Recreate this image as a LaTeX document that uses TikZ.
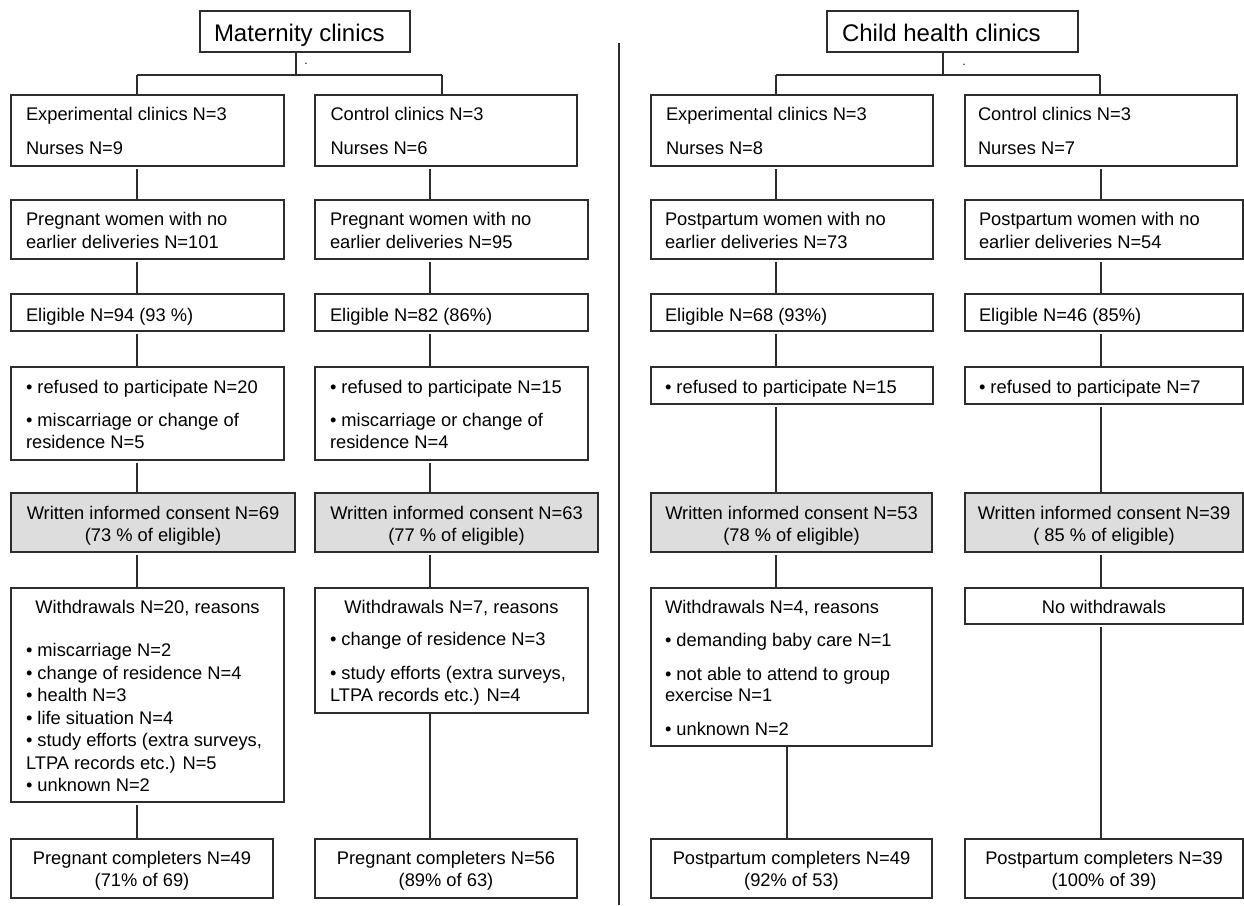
\documentclass[tikz,border=0pt]{standalone}
\usepackage{fontspec}
\setmainfont{Liberation Sans}
\definecolor{consentgray}{RGB}{221,221,221}
\definecolor{edge}{RGB}{45,45,45}
\newcommand\mybox[6]{\node[#6, minimum width={#4-#2}, minimum height={#5-#3}, anchor=north west] (#1) at (#2,#3) {};}
\tikzset{
  boxstyle/.style={draw=edge, line width=1.3pt, inner sep=0pt, outer sep=0pt},
  graybox/.style={boxstyle, fill=consentgray},
  txt/.style={inner sep=0pt, outer sep=0pt, font=\fontsize{18.3}{22}\selectfont},
  titletxt/.style={inner sep=0pt, outer sep=0pt, font=\fontsize{24}{28}\selectfont},
  dottxt/.style={inner sep=0pt, outer sep=0pt, font=\fontsize{12}{14}\selectfont},
  conn/.style={draw=edge, line width=1.1pt},
  gapconn/.style={conn, shorten <=3pt}
}
\begin{document}
\begin{tikzpicture}[x=1pt,y=-1pt]
\useasboundingbox (0,0) rectangle (1244,905);
\clip (0,0) rectangle (1244,905);
\fill[white] (0,0) rectangle (1244,905);

% ---------------- left half: Maternity clinics ----------------
\mybox{T1}{200}{11}{410}{52}{boxstyle}
\mybox{A1}{11}{95}{284}{166}{boxstyle}
\mybox{B1}{315}{95}{577}{166}{boxstyle}
\mybox{A2}{11}{200}{284}{259}{boxstyle}
\mybox{B2}{315}{200}{588}{259}{boxstyle}
\mybox{A3}{11}{294}{284}{331}{boxstyle}
\mybox{B3}{315}{294}{588}{331}{boxstyle}
\mybox{A4}{11}{367}{284}{460}{boxstyle}
\mybox{B4}{315}{367}{588}{460}{boxstyle}
\mybox{A5}{11}{493}{295}{552}{graybox}
\mybox{B5}{315}{493}{598}{552}{graybox}
\mybox{A6}{11}{588}{284}{802}{boxstyle}
\mybox{B6}{315}{588}{588}{713}{boxstyle}
\mybox{A7}{11}{839}{273}{898}{boxstyle}
\mybox{B7}{315}{839}{577}{898}{boxstyle}

% ---------------- right half: Child health clinics ----------------
\mybox{T2}{827}{11}{1078}{52}{boxstyle}
\mybox{C1}{651}{95}{933}{166}{boxstyle}
\mybox{D1}{965}{95}{1237}{166}{boxstyle}
\mybox{C2}{651}{200}{933}{259}{boxstyle}
\mybox{D2}{965}{200}{1243}{259}{boxstyle}
\mybox{C3}{651}{294}{933}{331}{boxstyle}
\mybox{D3}{965}{294}{1243}{331}{boxstyle}
\mybox{C4}{651}{367}{933}{404}{boxstyle}
\mybox{D4}{965}{367}{1243}{404}{boxstyle}
\mybox{C5}{651}{493}{932}{552}{graybox}
\mybox{D5}{965}{493}{1243}{552}{graybox}
\mybox{C6}{651}{588}{932}{746}{boxstyle}
\mybox{D6}{965}{588}{1243}{624}{boxstyle}
\mybox{C7}{651}{839}{932}{898}{boxstyle}
\mybox{D7}{965}{839}{1243}{898}{boxstyle}

% ---------------- column coordinates ----------------
\coordinate (xa) at (137,0);
\coordinate (xb) at (430,0);
\coordinate (xc) at (776,0);
\coordinate (xcc) at (787,0);
\coordinate (xd) at (1101,0);
\coordinate (barLm) at (296,75);
\coordinate (barLa) at (137,75);
\coordinate (barLb) at (442,75);
\coordinate (barRm) at (943,75);
\coordinate (barRc) at (776,75);
\coordinate (barRd) at (1100,75);
\coordinate (divtop) at (619,43);
\coordinate (divbot) at (619,905);

% divider
\draw[conn] (divtop) -- (divbot);

% title tree, left
\draw[conn] (T1.south -| barLm) -- (barLm);
\draw[conn] (barLa) -- (barLb);
\draw[conn] (barLa) -- (barLa |- A1.north);
\draw[conn] (barLb) -- (barLb |- B1.north);
% title tree, right
\draw[conn] (T2.south -| barRm) -- (barRm);
\draw[conn] (barRc) -- (barRd);
\draw[conn] (barRc) -- (barRc |- C1.north);
\draw[conn] (barRd) -- (barRd |- D1.north);

% column A
\draw[gapconn] (xa |- A1.south) -- (xa |- A2.north);
\draw[gapconn] (xa |- A2.south) -- (xa |- A3.north);
\draw[gapconn] (xa |- A3.south) -- (xa |- A4.north);
\draw[gapconn] (xa |- A4.south) -- (xa |- A5.north);
\draw[gapconn] (xa |- A5.south) -- (xa |- A6.north);
\draw[gapconn] (xa |- A6.south) -- (xa |- A7.north);
% column B
\draw[gapconn] (xb |- B1.south) -- (xb |- B2.north);
\draw[gapconn] (xb |- B2.south) -- (xb |- B3.north);
\draw[gapconn] (xb |- B3.south) -- (xb |- B4.north);
\draw[gapconn] (xb |- B4.south) -- (xb |- B5.north);
\draw[gapconn] (xb |- B5.south) -- (xb |- B6.north);
\draw[conn] (xb |- B6.south) -- (xb |- B7.north);
% column C
\draw[gapconn] (xc |- C1.south) -- (xc |- C2.north);
\draw[gapconn] (xc |- C2.south) -- (xc |- C3.north);
\draw[gapconn] (xc |- C3.south) -- (xc |- C4.north);
\draw[gapconn] (xc |- C4.south) -- (xc |- C5.north);
\draw[gapconn] (xc |- C5.south) -- (xc |- C6.north);
\draw[conn] (xcc |- C6.south) -- (xcc |- C7.north);
% column D
\draw[gapconn] (xd |- D1.south) -- (xd |- D2.north);
\draw[gapconn] (xd |- D2.south) -- (xd |- D3.north);
\draw[gapconn] (xd |- D3.south) -- (xd |- D4.north);
\draw[gapconn] (xd |- D4.south) -- (xd |- D5.north);
\draw[gapconn] (xd |- D5.south) -- (xd |- D6.north);
\draw[gapconn] (xd |- D6.south) -- (xd |- D7.north);

% ---------------- texts ----------------
\node[titletxt, anchor=base west] (tT1) at (214,41.5) {Maternity clinics};
\node[titletxt, anchor=base west] (tT2) at (842,41.5) {Child health clinics};
\node[dottxt, anchor=base] (dotL) at (306,64) {.};
\node[dottxt, anchor=base] (dotR) at (964,65) {.};

% row 1
\node[txt, anchor=base west] (tA1a) at (26,120.7) {Experimental clinics N=3};
\node[txt, anchor=base west] (tA1b) at (26,154) {Nurses N=9};
\node[txt, anchor=base west] (tB1a) at (330.5,120.7) {Control clinics N=3};
\node[txt, anchor=base west] (tB1b) at (330.5,154) {Nurses N=6};
\node[txt, anchor=base west] (tC1a) at (666,120.7) {Experimental clinics N=3};
\node[txt, anchor=base west] (tC1b) at (666,154) {Nurses N=8};
\node[txt, anchor=base west] (tD1a) at (978,120.7) {Control clinics N=3};
\node[txt, anchor=base west] (tD1b) at (978,154) {Nurses N=7};

% row 2
\node[txt, anchor=base west] (tA2a) at (26,225) {Pregnant women with no};
\node[txt, anchor=base west] (tA2b) at (26,248.3) {earlier deliveries N=101};
\node[txt, anchor=base west] (tB2a) at (330,225) {Pregnant women with no};
\node[txt, anchor=base west] (tB2b) at (330,248.3) {earlier deliveries N=95};
\node[txt, anchor=base west] (tC2a) at (665,225) {Postpartum women with no};
\node[txt, anchor=base west] (tC2b) at (665,248.3) {earlier deliveries N=73};
\node[txt, anchor=base west] (tD2a) at (979,225) {Postpartum women with no};
\node[txt, anchor=base west] (tD2b) at (979,248.3) {earlier deliveries N=54};

% row 3
\node[txt, anchor=base west] (tA3) at (26,321) {Eligible N=94 (93 \%)};
\node[txt, anchor=base west] (tB3) at (330,321) {Eligible N=82 (86\%)};
\node[txt, anchor=base west] (tC3) at (665,321) {Eligible N=68 (93\%)};
\node[txt, anchor=base west] (tD3) at (979,321) {Eligible N=46 (85\%)};

% row 4
\node[txt, anchor=base west] (tA4a) at (26,393.3) {• refused to participate N=20};
\node[txt, anchor=base west] (tA4b) at (26,426.7) {• miscarriage or change of};
\node[txt, anchor=base west] (tA4c) at (26,448.3) {residence N=5};
\node[txt, anchor=base west] (tB4a) at (330,393.3) {• refused to participate N=15};
\node[txt, anchor=base west] (tB4b) at (330,426.7) {• miscarriage or change of};
\node[txt, anchor=base west] (tB4c) at (330,448.3) {residence N=4};
\node[txt, anchor=base west] (tC4a) at (665,393.3) {• refused to participate N=15};
\node[txt, anchor=base west] (tD4a) at (979,393.3) {• refused to participate N=7};

% row 5 (consent)
\node[txt, anchor=base] (tA5a) at (153,519.3) {Written informed consent N=69};
\node[txt, anchor=base] (tA5b) at (153,541.3) {(73 \% of eligible)};
\node[txt, anchor=base] (tB5a) at (456.5,519.3) {Written informed consent N=63};
\node[txt, anchor=base] (tB5b) at (456.5,541.3) {(77 \% of eligible)};
\node[txt, anchor=base] (tC5a) at (791.5,519.3) {Written informed consent N=53};
\node[txt, anchor=base] (tC5b) at (791.5,541.3) {(78 \% of eligible)};
\node[txt, anchor=base] (tD5a) at (1104,519.3) {Written informed consent N=39};
\node[txt, anchor=base] (tD5b) at (1104,541.3) {( 85 \% of eligible)};

% row 6 (withdrawals)
\node[txt, anchor=base] (tA6h) at (147.5,613.3) {Withdrawals N=20, reasons};
\node[txt, anchor=base west] (tA6a) at (26,656.7) {• miscarriage N=2};
\node[txt, anchor=base west] (tA6b) at (26,679.1) {• change of residence N=4};
\node[txt, anchor=base west] (tA6c) at (26,701.6) {• health N=3};
\node[txt, anchor=base west] (tA6d) at (26,724.1) {• life situation N=4};
\node[txt, anchor=base west] (tA6e) at (26,746.6) {• study efforts (extra surveys,};
\node[txt, anchor=base west] (tA6f) at (26,769) {LTPA records etc.) N=5};
\node[txt, anchor=base west] (tA6g) at (26,791.4) {• unknown N=2};

\node[txt, anchor=base] (tB6h) at (451.5,613.3) {Withdrawals N=7, reasons};
\node[txt, anchor=base west] (tB6a) at (330,645) {• change of residence N=3};
\node[txt, anchor=base west] (tB6b) at (330,679) {• study efforts (extra surveys,};
\node[txt, anchor=base west] (tB6c) at (330,701.7) {LTPA records etc.) N=4};

\node[txt, anchor=base west] (tC6h) at (665,613.3) {Withdrawals N=4, reasons};
\node[txt, anchor=base west] (tC6a) at (665,646.7) {• demanding baby care N=1};
\node[txt, anchor=base west] (tC6b) at (665,680) {• not able to attend to group};
\node[txt, anchor=base west] (tC6c) at (665,701.7) {exercise N=1};
\node[txt, anchor=base west] (tC6d) at (665,735) {• unknown N=2};

\node[txt, anchor=base] (tD6) at (1104,613.3) {No withdrawals};

% row 7 (completers)
\node[txt, anchor=base] (tA7a) at (142,864.3) {Pregnant completers N=49};
\node[txt, anchor=base] (tA7b) at (142,886.7) {(71\% of 69)};
\node[txt, anchor=base] (tB7a) at (446,864.3) {Pregnant completers N=56};
\node[txt, anchor=base] (tB7b) at (446,886.7) {(89\% of 63)};
\node[txt, anchor=base] (tC7a) at (791.5,864.3) {Postpartum completers N=49};
\node[txt, anchor=base] (tC7b) at (791.5,886.7) {(92\% of 53)};
\node[txt, anchor=base] (tD7a) at (1104,864.3) {Postpartum completers N=39};
\node[txt, anchor=base] (tD7b) at (1104,886.7) {(100\% of 39)};
\end{tikzpicture}
\end{document}
